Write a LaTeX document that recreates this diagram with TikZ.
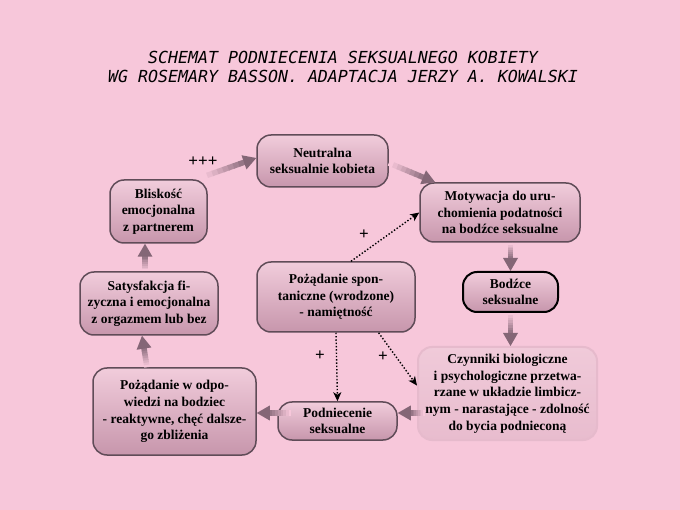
\documentclass[tikz,border=0pt]{standalone}
\usepackage{fontspec}
\setmainfont{Liberation Serif}
\newfontfamily\titlefont{DejaVu Sans Mono}
\usetikzlibrary{arrows.meta,calc}
\definecolor{bgpink}{RGB}{247,199,218}
\definecolor{boxtop}{RGB}{241,204,219}
\definecolor{boxbot}{RGB}{199,150,172}
\definecolor{boxline}{RGB}{96,76,88}
\definecolor{paletop}{RGB}{240,202,217}
\definecolor{palebot}{RGB}{232,188,206}
\definecolor{paleline}{RGB}{230,186,204}
\definecolor{arrowc}{RGB}{132,102,118}

\begin{document}
\begin{tikzpicture}[
  x=1pt,y=-1pt,
  box/.style={draw=boxline,line width=1.5pt,rounded corners=14pt,top color=boxtop,bottom color=boxbot,
    align=center,inner sep=0pt,font=\fontsize{13.5}{16.7}\selectfont\bfseries},
  pale/.style={box,draw=paleline,line width=2pt,top color=paletop,bottom color=palebot},
  fatline/.style={line width=5.5pt},
  dots/.style={black,line width=1.4pt,dash pattern=on 1.4pt off 1.9pt,-{Stealth[length=9pt,width=8pt,inset=2.5pt]}},
  plus/.style={font=\fontsize{17}{18}\selectfont\bfseries}
]
  % wide fading arrow, tail in background colour
  \def\fatarrow#1#2{
    \path (#1) coordinate (fa) (#2) coordinate (fb) ($(fb)!13pt!(fa)$) coordinate (fh);
    \foreach \k [evaluate=\k as \p using int(12*\k)] in {0,...,7}{
      \draw[fatline,arrowc!\p!bgpink] ($(fa)!\k/8!(fh)$) -- ($(fa)!{(\k+1.2)/8}!(fh)$);
    }
    \fill[arrowc] (fb) -- ($(fh)!7.5pt!90:(fb)$) -- ($(fh)!7.5pt!-90:(fb)$) -- cycle;
  }

  \fill[bgpink] (0,0) rectangle (680,510);
  \useasboundingbox (0,0) rectangle (680,510);

  \node[font=\titlefont\itshape\fontsize{16.6}{19}\selectfont,align=center] (title) at (343,66.5)
    {SCHEMAT PODNIECENIA SEKSUALNEGO KOBIETY\\WG ROSEMARY BASSON. ADAPTACJA JERZY A. KOWALSKI};

  \node[box,minimum width=131,minimum height=52] (neut) at (322.5,161) {Neutralna\\seksualnie kobieta};
  \node[box,minimum width=97,minimum height=63] (blisk) at (158.5,211.5) {Bliskość\\emocjonalna\\z partnerem};
  \node[box,minimum width=160,minimum height=59] (motyw) at (500,212.5) {Motywacja do uru-\\chomienia podatności\\na bodźce seksualne};
  \node[box,draw=black,line width=2pt,minimum width=95,minimum height=40] (bodz) at (510.5,292) {Bodźce\\seksualne};
  \node[box,minimum width=158,minimum height=70] (spont) at (336,297) {Pożądanie spon-\\taniczne (wrodzone)\\- namiętność};
  \node[box,minimum width=138,minimum height=63] (satys) at (149,303.5) {Satysfakcja fi-\\zyczna i emocjonalna\\z orgazmem lub bez};
  \node[pale,minimum width=179,minimum height=93] (czyn) at (507.5,393.5) {Czynniki biologiczne\\i psychologiczne przetwa-\\rzane w układzie limbicz-\\nym - narastające - zdolność\\do bycia podnieconą};
  \node[box,minimum width=119,minimum height=38] (podn) at (337.5,421) {Podniecenie\\seksualne};
  \node[box,minimum width=163,minimum height=87] (odp) at (174.5,411.5) {Pożądanie w odpo-\\wiedzi na bodziec\\- reaktywne, chęć dalsze-\\go zbliżenia};

  \fatarrow{[xshift=-6pt,yshift=2pt]blisk.north east}{[yshift=3pt]neut.west}
  \fatarrow{[yshift=-2pt]neut.east}{motyw.155}
  \fatarrow{bodz.north |- motyw.south}{bodz.north}
  \fatarrow{bodz.south}{bodz.south |- czyn.north}
  \fatarrow{[xshift=8pt,yshift=8pt]czyn.west |- podn.east}{[yshift=8pt]podn.east}
  \fatarrow{[xshift=14pt,yshift=8pt]podn.west}{[yshift=8pt]odp.east |- podn.west}
  \fatarrow{[xshift=-2pt]satys.south |- odp.north}{[xshift=-7pt]satys.south}
  \fatarrow{[xshift=-4pt]satys.north}{[xshift=-4pt]satys.north |- blisk.south}

  \draw[dots] ([xshift=15pt]spont.north) -- (motyw.west);
  \draw[dots] (spont.south) -- (podn.north);
  \draw[dots] (spont.-40) -- (czyn.175);

  \node[plus] (ppp) at (203,162) {+++};
  \node[plus] (pmot) at (364,235) {+};
  \node[plus] (ppod) at (320,356) {+};
  \node[plus] (pczy) at (383,357) {+};
\end{tikzpicture}
\end{document}
